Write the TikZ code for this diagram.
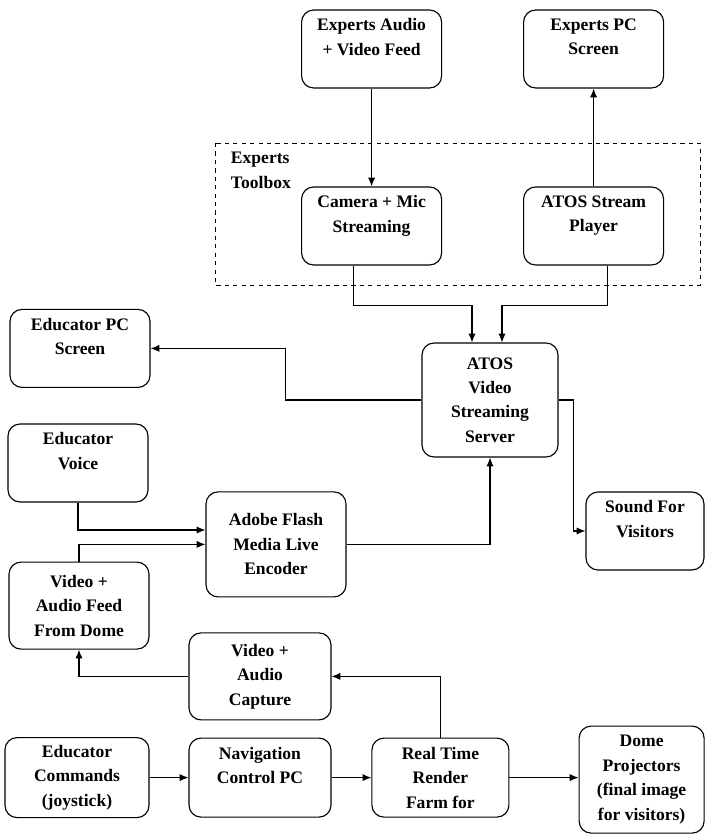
\documentclass[tikz,border=0pt]{standalone}
\usepackage{fontspec}
\setmainfont{Liberation Serif}
\usepackage{tikz}
\usetikzlibrary{arrows.meta}

\tikzset{
  blk/.style={draw, rounded corners=0.3cm, line width=0.8pt, align=center,
    font=\bfseries\fontsize{12.5}{17.4}\selectfont,
    minimum width=3.5cm, minimum height=1.95cm, inner sep=2pt},
  arr/.style={-{Latex[length=2.2mm,width=1.8mm]}, line width=0.8pt}
}

\begin{document}
\begin{tikzpicture}
        \useasboundingbox (0,0) rectangle (17.65,-20.85);
        \draw[dashed, line width=0.7pt] (5.375,-3.575) rectangle (17.5,-7.125);
        \node[anchor=north west, align=left, font=\bfseries\fontsize{12.5}{17.4}\selectfont] (tbx) at (5.65,-3.68) {Experts\\Toolbox};
        \node[blk] (expaud) at (9.29,-1.225) {Experts Audio\\+ Video Feed\\~};
        \node[blk] (exppc) at (14.84,-1.225) {Experts PC\\Screen\\~};
        \node[blk] (cam) at (9.29,-5.65) {Camera + Mic\\Streaming\\~};
        \node[blk] (player) at (14.84,-5.65) {ATOS Stream\\Player\\~};
        \node[blk, minimum width=3.4cm, minimum height=2.85cm] (server) at (12.25,-10) {ATOS\\Video\\Streaming\\Server};
        \node[blk] (edupc) at (2.0,-8.71) {Educator PC\\Screen\\~};
        \node[blk] (voice) at (1.95,-11.575) {Educator\\Voice\\~};
        \node[blk, minimum height=2.625cm] (adobe) at (6.9,-13.61) {Adobe Flash\\Media Live\\Encoder};
        \node[blk, minimum width=2.95cm] (sound) at (16.125,-13.275) {Sound For\\Visitors\\~};
        \node[blk, minimum height=2.175cm] (feed) at (1.975,-15.14) {Video +\\Audio Feed\\From Dome};
        \node[blk, minimum width=3.55cm, minimum height=2.175cm] (capture) at (6.5,-16.91) {Video +\\Audio\\Capture};
        \node[blk, minimum width=3.6cm, minimum height=2cm] (cmd) at (1.925,-19.44) {Educator\\Commands\\(joystick)};
        \node[blk, minimum width=3.55cm, minimum height=1.975cm] (nav) at (6.5,-19.44) {Navigation\\Control PC\\~};
        \node[blk, minimum width=3.425cm, minimum height=1.975cm] (render) at (11.01,-19.44) {Real Time\\Render\\Farm for};
        \node[blk, minimum width=3.125cm, minimum height=2.675cm] (dome) at (16.04,-19.49) {Dome\\Projectors\\(final image\\for visitors)};
        \draw[arr] (expaud) -- (cam);
        \draw[arr] (player) -- (exppc);
        \draw[arr] ([xshift=-0.46cm]cam.south) -- ++(0,-1) -| ([xshift=-0.45cm]server.north);
        \draw[arr] ([xshift=0.34cm]player.south) -- ++(0,-1) -| ([xshift=0.3cm]server.north);
        \draw[arr] (server.west) -- ++(-3.4,0) |- (edupc.east);
        \draw[arr] (server.east) -- ++(0.375,0) |- (sound.west);
        \draw[arr] (voice.south) |- ([yshift=0.36cm]adobe.west);
        \draw[arr] (feed.north) |- (adobe.west);
        \draw[arr] (adobe.east) -| (server.south);
        \draw[arr] (capture.west) -| (feed.south);
        \draw[arr] (render.north) |- (capture.east);
        \draw[arr] (cmd) -- (nav);
        \draw[arr] (nav) -- (render);
        \draw[arr] (render.east) -- (render.east -| dome.west);
\end{tikzpicture}
\end{document}
